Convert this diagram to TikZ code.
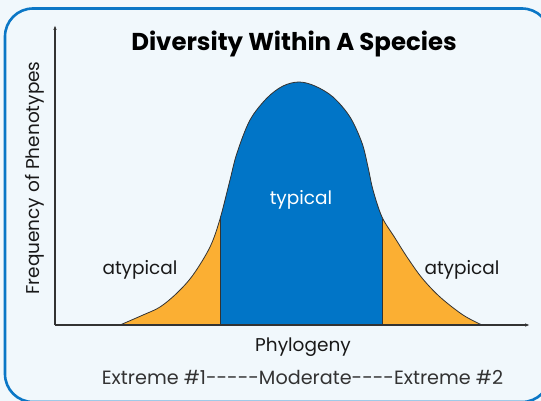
\documentclass[tikz,border=0pt]{standalone}
\usepackage{fontspec}
\setmainfont{Poppins}
\usetikzlibrary{positioning,arrows.meta}

\definecolor{paper}{HTML}{F1F8FC}
\definecolor{frameblue}{HTML}{0B77C6}
\definecolor{bellblue}{HTML}{0175C7}
\definecolor{bellorange}{HTML}{FBAF33}
\definecolor{axisgray}{HTML}{333333}

\begin{document}
\begin{tikzpicture}[x=1pt, y=-1pt,
  axis/.style={line width=1.4pt, draw=axisgray, -{Latex[length=5pt,width=3.5pt]}},
  outline/.style={line width=0.8pt, draw=axisgray},
  label/.style={font=\fontsize{18.5}{22}\selectfont, text=black!90, inner sep=0pt}]
\clip (0,0) rectangle (541,401);
\fill[paper] (0,0) rectangle (541,401);
\draw[frameblue, line width=2.6pt, rounded corners=28pt] (5,8.5) rectangle (550,402);

% the bell, saved once
\path[save path=\bellpath] plot[smooth, tension=0.55] coordinates {
  (120,325) (143,315) (160,307) (177,293) (193,275) (210,247) (220,219) (230,180) (237,153)
  (250,120) (267,98) (283,86) (299,82) (315,86) (333,97) (350,117) (362,143) (368,167)
  (373,190) (382,217) (395,238) (407,257) (422,278) (440,297) (463,315) (482,325)} -- cycle;

\fill[bellorange, use path=\bellpath];
\begin{scope}
  \clip (220,0) rectangle (382,401);
  \fill[bellblue, use path=\bellpath];
\end{scope}
\begin{scope}
  \clip[use path=\bellpath];
  \draw[outline] (220,0) -- (220,401);
  \draw[outline] (382,0) -- (382,401);
\end{scope}
\draw[outline, use path=\bellpath];

% axes
\coordinate (origin) at (55,325);
\coordinate (ytop) at (55,25);
\coordinate (xend) at (530,325);
\draw[axis] (origin) -- (ytop);
\draw[axis] (origin) -- (xend);

\node[font=\fontsize{24.4}{28}\selectfont\bfseries, inner sep=0pt] (title) at (294,44) {Diversity Within A Species};
\node[label, text=white] (typical) at (301,200) {typical};
\node[label] (leftatyp) at (140,270) {atypical};
\node[label] (rightatyp) at (462,270) {atypical};
\node[label, rotate=90] (freq) at (35,178) {Frequency of Phenotypes};
\node[label] (phylo) at (303,347) {Phylogeny};
\node[label, font=\fontsize{19.2}{22}\selectfont, text=axisgray] (scale) at (302.5,377) {Extreme \#1-{}-{}-{}-{}-Moderate-{}-{}-{}-Extreme \#2};
\end{tikzpicture}
\end{document}
